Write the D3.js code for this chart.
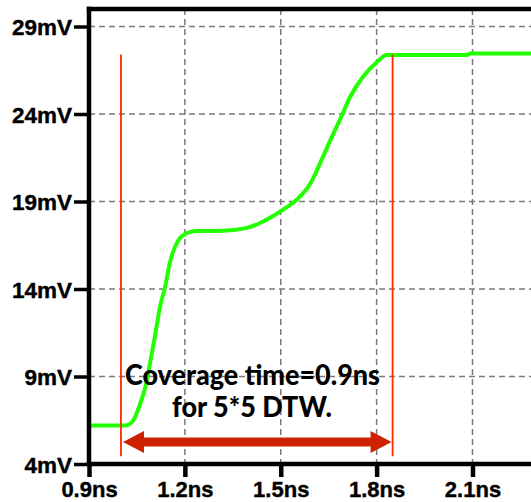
<!DOCTYPE html>
<html>
<head>
<meta charset="utf-8">
<script src="https://cdn.jsdelivr.net/npm/d3@7"></script>
<style>
  html, body { margin: 0; padding: 0; background: #fff; }
  svg { display: block; }
</style>
</head>
<body>
<script>
// ---- data ----
const timeNs = [0.900, 0.966, 1.013, 1.028, 1.041, 1.053, 1.066, 1.078, 1.091, 1.107, 1.122, 1.138, 1.153, 1.169, 1.185, 1.207, 1.238, 1.288, 1.351, 1.394, 1.435, 1.476, 1.520, 1.550, 1.595, 1.632, 1.660, 1.685, 1.717, 1.757, 1.801, 1.832, 1.873, 2.083, 2.092, 2.311];
const voltageMv = [6.20, 6.20, 6.20, 6.29, 6.57, 7.09, 7.77, 8.51, 9.77, 11.37, 12.97, 14.11, 15.49, 16.40, 16.91, 17.20, 17.31, 17.31, 17.37, 17.49, 17.77, 18.17, 18.69, 19.10, 20.10, 21.55, 22.69, 23.66, 24.97, 26.11, 26.97, 27.37, 27.37, 27.37, 27.46, 27.46];
const xTicks = [0.9, 1.2, 1.5, 1.8, 2.1];
const xTickLabels = ["0.9ns", "1.2ns", "1.5ns", "1.8ns", "2.1ns"];
const yTicks = [4, 9, 14, 19, 24, 29];
const yTickLabels = ["4mV", "9mV", "14mV", "19mV", "24mV", "29mV"];
const markerTimes = [1.0, 1.85];       // red vertical markers (ns)
const markerRange = [4.45, 27.4];      // mV extent of markers
const arrowLevel = 5.26;               // mV level of the arrow
const annotationLines = ["Coverage time=0.9ns", "for 5*5 DTW."];

// ---- layout ----
const W = 531, H = 502;
const x = d3.scaleLinear().domain([0.9, 2.3]).range([89, 536.4]);
const y = d3.scaleLinear().domain([4, 30]).range([464, 9]);

const svg = d3.select("body").append("svg").attr("width", W).attr("height", H);

svg.append("defs").append("clipPath").attr("id", "plot")
  .append("rect").attr("x", x(0.9)).attr("y", y(30) - 3).attr("width", W - x(0.9)).attr("height", y(4) - y(30) + 3);

// grid
const grid = svg.append("g").attr("stroke", "#7a7a7a").attr("stroke-width", 1.5).attr("stroke-dasharray", "6,4");
grid.selectAll("line.v").data(xTicks.slice(1)).join("line")
  .attr("x1", d => x(d)).attr("x2", d => x(d)).attr("y1", y(30)).attr("y2", y(4));
grid.selectAll("line.h").data(yTicks.slice(1)).join("line")
  .attr("x1", x(0.9)).attr("x2", W).attr("y1", d => y(d)).attr("y2", d => y(d));

// curve
const line = d3.line().x((d, i) => x(timeNs[i])).y(d => y(d)).curve(d3.curveMonotoneX);
svg.append("path").datum(voltageMv).attr("clip-path", "url(#plot)")
  .attr("d", line).attr("fill", "none").attr("stroke", "#22ff00").attr("stroke-width", 4)
  .attr("stroke-linejoin", "round");

// red marker lines
svg.selectAll("line.marker").data(markerTimes).join("line")
  .attr("x1", d => x(d)).attr("x2", d => x(d))
  .attr("y1", y(markerRange[1])).attr("y2", y(markerRange[0]))
  .attr("stroke", "#ff2a00").attr("stroke-width", 1.8);

// double arrow
const ax1 = x(markerTimes[0]) + 2, ax2 = x(markerTimes[1]) - 1, ay = y(arrowLevel);
const headL = 21, headH = 11, shaft = 4.5;
svg.append("path")
  .attr("d", `M${ax1},${ay} L${ax1 + headL},${ay - headH} L${ax1 + headL},${ay - shaft} L${ax2 - headL},${ay - shaft} L${ax2 - headL},${ay - headH} L${ax2},${ay} L${ax2 - headL},${ay + headH} L${ax2 - headL},${ay + shaft} L${ax1 + headL},${ay + shaft} L${ax1 + headL},${ay + headH} Z`)
  .attr("fill", "#cc2200");

// annotation
const ann = svg.append("g").attr("font-family", "Lato, 'Open Sans', sans-serif").attr("font-weight", 900)
  .attr("font-size", 28).attr("fill", "#000").attr("text-anchor", "middle");
ann.append("text").attr("x", 252.5).attr("y", 385).attr("textLength", 255).attr("lengthAdjust", "spacingAndGlyphs").text(annotationLines[0]);
ann.append("text").attr("x", 252).attr("y", 417).attr("textLength", 160).attr("lengthAdjust", "spacingAndGlyphs").text(annotationLines[1]);

// axes
const yAxis = d3.axisLeft(y).tickValues(yTicks).tickSize(15).tickPadding(2)
  .tickFormat((d, i) => yTickLabels[i]);
const gy = svg.append("g").attr("transform", `translate(${x(0.9)},0)`).call(yAxis);
gy.select(".domain").remove();
gy.selectAll(".tick line").attr("stroke", "#000").attr("stroke-width", 3.5);
gy.selectAll(".tick text").attr("font-family", "'Liberation Sans', Arial, sans-serif")
  .attr("font-weight", "bold").attr("font-size", 22.5).attr("fill", "#000").attr("dy", "0.36em")
  .attr("stroke", "#000").attr("stroke-width", 0.4);

const xAxis = d3.axisBottom(x).tickValues(xTicks).tickSize(13).tickPadding(4)
  .tickFormat((d, i) => xTickLabels[i]);
const gx = svg.append("g").attr("transform", `translate(0,${y(4)})`).call(xAxis);
gx.select(".domain").remove();
gx.selectAll(".tick line").attr("stroke", "#000").attr("stroke-width", 4.5);
gx.selectAll(".tick text").attr("font-family", "'Liberation Sans', Arial, sans-serif")
  .attr("font-weight", "bold").attr("font-size", 22).attr("fill", "#000")
  .attr("stroke", "#000").attr("stroke-width", 0.4);

// frame lines
const frame = svg.append("g").attr("stroke", "#000").attr("stroke-width", 4.5).attr("stroke-linecap", "square");
frame.append("line").attr("x1", x(0.9)).attr("x2", W + 5).attr("y1", y(4)).attr("y2", y(4));
frame.append("line").attr("x1", x(0.9)).attr("x2", x(0.9)).attr("y1", y(30)).attr("y2", y(4));
frame.append("line").attr("x1", x(0.9)).attr("x2", W + 5).attr("y1", y(30)).attr("y2", y(30));
</script>
</body>
</html>
